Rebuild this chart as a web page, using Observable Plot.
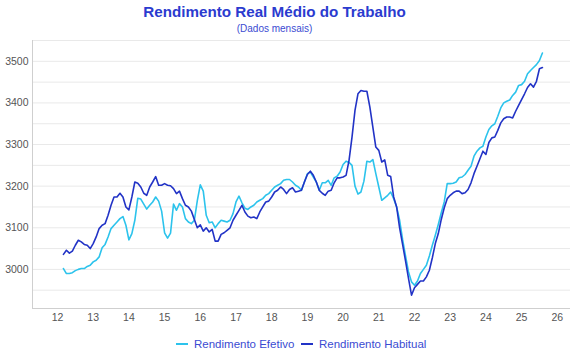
<!DOCTYPE html>
<html>
<head>
<meta charset="utf-8">
<script src="https://cdn.jsdelivr.net/npm/d3@7"></script>
<script src="https://cdn.jsdelivr.net/npm/@observablehq/plot@0.6"></script>
<style>
  body { margin: 0; background: #fff; font-family: "Liberation Sans", Arial, sans-serif; }
  #wrap { width: 570px; position: relative; }
  #head { height: 36px; position: relative; }
  #title { position: absolute; left: 0; width: 549px; top: 4px; text-align: center; font-size: 15.2px; line-height: 16px; font-weight: bold; color: #2b3bcf; white-space: nowrap; }
  #sub { position: absolute; left: 0; width: 549px; top: 23px; text-align: center; font-size: 10px; line-height: 12px; color: #3b4bd2; white-space: nowrap; }
  #legend { height: 28px; position: relative; font-size: 11.5px; color: #3b4bd2; }
  .item { position: absolute; top: 7px; line-height: 14px; white-space: nowrap; }
  .sw { display: inline-block; width: 12px; height: 0; border-top: 2px solid; vertical-align: middle; margin-right: 6px; position: relative; top: -1px; }
</style>
</head>
<body>
<div id="wrap">
  <div id="head">
    <div id="title">Rendimento Real Médio do Trabalho</div>
    <div id="sub">(Dados mensais)</div>
  </div>
  <div id="chart"></div>
  <div id="legend"></div>
</div>
<script>
// Series labels and colours
const seriesNames = ["Rendimento Efetivo", "Rendimento Habitual"];
const seriesColors = ["#2cc3ec", "#2233c6"];

// Monthly data, first point = March 2012 (year "12")
const startYear = 12;
const startMonth = 3;

const efetivo = [
  3002, 2990, 2990, 2992, 2997, 3000, 3002, 3002, 3007, 3010, 3018, 3022,
  3030, 3052, 3060, 3078, 3098, 3106, 3114, 3122, 3127, 3106, 3071, 3086,
  3118, 3171, 3169, 3157, 3145, 3154, 3162, 3174, 3164, 3140, 3088, 3075,
  3087, 3157, 3142, 3158, 3150, 3122, 3114, 3110, 3118, 3165, 3203, 3188,
  3130, 3112, 3114, 3100, 3110, 3118, 3116, 3114, 3118, 3134, 3162, 3176,
  3160, 3147, 3144, 3150, 3154, 3162, 3166, 3170, 3178, 3182, 3190, 3198,
  3202, 3206, 3214, 3216, 3216, 3210, 3202, 3198, 3190, 3210, 3230, 3234,
  3222, 3210, 3190, 3208, 3208, 3214, 3202, 3220, 3224, 3234, 3252, 3260,
  3257, 3250, 3200, 3181, 3186, 3212, 3260, 3258, 3264, 3230, 3198, 3166,
  3172, 3178, 3186, 3170, 3150, 3118, 3072, 3032, 2994, 2970, 2962, 2972,
  2990, 3000, 3010, 3032, 3058, 3082, 3108, 3136, 3162, 3206, 3206, 3207,
  3210, 3220, 3222, 3228, 3238, 3248, 3272, 3284, 3292, 3296, 3318, 3336,
  3345, 3350, 3368, 3388, 3400, 3404, 3407, 3418, 3426, 3442, 3444, 3452,
  3470, 3478, 3485, 3492, 3502, 3520
];

const habitual = [
  3036, 3046, 3039, 3044, 3058, 3070, 3066, 3060, 3058, 3050, 3062, 3078,
  3098, 3106, 3110, 3130, 3154, 3174, 3174, 3183, 3174, 3150, 3143, 3174,
  3210, 3207, 3198, 3183, 3178, 3198, 3210, 3223, 3202, 3202, 3206, 3202,
  3201, 3194, 3182, 3188, 3170, 3154, 3150, 3140, 3120, 3100, 3107, 3092,
  3100, 3090, 3096, 3068, 3068, 3084, 3088, 3094, 3100, 3118, 3130, 3142,
  3154, 3138, 3128, 3124, 3126, 3122, 3138, 3150, 3162, 3164, 3174, 3186,
  3190, 3198, 3192, 3182, 3192, 3196, 3186, 3188, 3190, 3210, 3228, 3236,
  3226, 3210, 3190, 3183, 3178, 3188, 3190, 3208, 3220, 3220, 3222, 3226,
  3262, 3318, 3382, 3422, 3430, 3428, 3428, 3390, 3342, 3294, 3286, 3258,
  3263, 3226, 3223, 3174, 3150, 3100, 3060, 3020, 2978, 2938, 2956, 2964,
  2972, 2972, 2982, 2998, 3028, 3062, 3086, 3120, 3148, 3170, 3178, 3184,
  3188, 3188, 3182, 3184, 3192, 3208, 3230, 3248, 3266, 3284, 3276, 3305,
  3316, 3318, 3334, 3352, 3362, 3366, 3366, 3364, 3380, 3394, 3408, 3422,
  3437, 3446, 3438, 3452, 3482, 3485
];

// Axis ticks
const xTicks = [12, 13, 14, 15, 16, 17, 18, 19, 20, 21, 22, 23, 24, 25, 26];
const yTicks = [3000, 3100, 3200, 3300, 3400, 3500];
const yGrid = [2950, 3000, 3050, 3100, 3150, 3200, 3250, 3300, 3350, 3400, 3450, 3500, 3550];
const xDomain = [11.3, 26.37];
const yDomain = [2906, 3550];

const rows = [];
[efetivo, habitual].forEach((arr, k) => {
  arr.forEach((v, i) => rows.push({ t: startYear + (startMonth - 1 + i) / 12, v, s: seriesNames[k] }));
});

const chart = Plot.plot({
  width: 570,
  height: 294,
  marginTop: 4,
  marginBottom: 22,
  marginLeft: 32,
  marginRight: 0,
  style: { fontFamily: "'Liberation Sans', Arial, sans-serif", fontSize: "10.5px", color: "#555", background: "transparent" },
  x: { domain: xDomain, label: null },
  y: { domain: yDomain, label: null },
  color: { domain: seriesNames, range: seriesColors },
  marks: [
    Plot.gridY(yGrid, { stroke: "#e9e9e9", strokeOpacity: 1 }),
    Plot.ruleX([xDomain[0]], { stroke: "#cfcfcf" }),
    Plot.ruleY([yDomain[0]], { stroke: "#cfcfcf" }),
    Plot.axisX(xTicks, { tickSize: 0, tickPadding: 5, tickFormat: d => String(d), label: null }),
    Plot.axisY(yTicks, { tickSize: 0, tickPadding: 4, tickFormat: d => String(d), label: null }),
    Plot.line(rows, { x: "t", y: "v", z: "s", stroke: "s", strokeWidth: 1.6, curve: "linear" })
  ]
});
document.getElementById("chart").appendChild(chart);

// Legend
const legend = document.getElementById("legend");
const legendLeft = [176, 301];
seriesNames.forEach((name, k) => {
  const it = document.createElement("div");
  it.className = "item";
  it.style.left = legendLeft[k] + "px";
  const sw = document.createElement("span");
  sw.className = "sw";
  sw.style.borderTopColor = seriesColors[k];
  it.appendChild(sw);
  it.appendChild(document.createTextNode(name));
  legend.appendChild(it);
});
</script>
</body>
</html>
